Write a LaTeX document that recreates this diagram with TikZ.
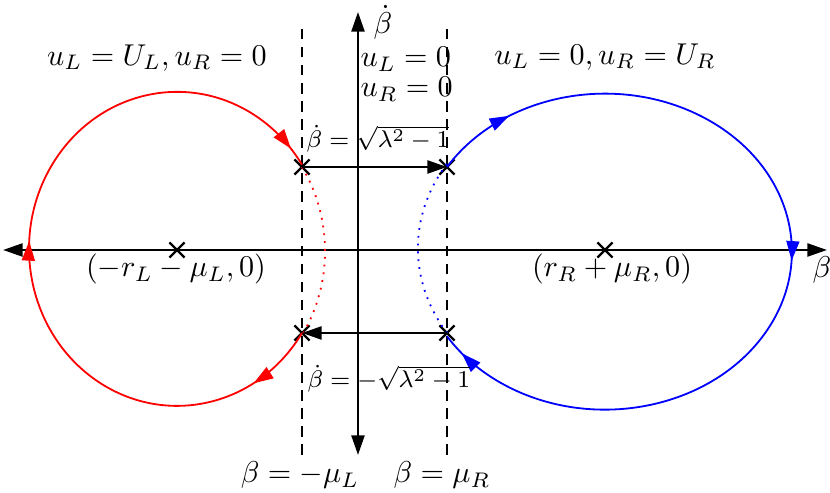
\documentclass[tikz,border=0pt]{standalone}
\usetikzlibrary{arrows.meta,decorations.markings,shapes.misc}
\tikzset{
  headtip/.tip={Triangle[length=6.5pt,width=4.3pt]},
  crossmark/.style={cross out,draw,thick,minimum size=4.2pt,inner sep=0pt},
  jumplabel/.style={anchor=base,font=\fontsize{8.5}{10}\selectfont},
  flow/.style={postaction={decorate},decoration={markings,
    mark=at position 0.09 with {\arrow{headtip}},
    mark=at position 0.51 with {\arrow{headtip}},
    mark=at position 0.975 with {\arrow{headtip}}}}
}
\begin{document}
\begin{tikzpicture}[x=0.332pt,y=0.332pt]
    \useasboundingbox (-358,-243) rectangle (472,250);
    % axes
    \draw[thick,{headtip}-{headtip}] (-355,0) -- (469,0);
    \draw[thick,{headtip}-{headtip}] (0,-205) -- (0,238);
    \node (betadot) at (25,228) {$\dot\beta$};
    \node (beta) at (464,-20) {$\beta$};
    % boundaries
    \draw[semithick,dash pattern=on 3.5pt off 2.5pt] (-56,-205) -- (-56,228);
    \draw[semithick,dash pattern=on 3.5pt off 2.5pt] (89,-205) -- (89,228);
    \node (muL) at (-58,-233) [anchor=base] {$\beta=-\mu_L$};
    \node (muR) at (84,-233) [anchor=base] {$\beta=\mu_R$};
    % switching points
    \node[crossmark] (lefttop) at (-56,83) {};
    \node[crossmark] (leftbot) at (-56,-83) {};
    \node[crossmark] (righttop) at (89,83) {};
    \node[crossmark] (rightbot) at (89,-83) {};
    \node[crossmark] (centerL) at (-181,0) {};
    \node[crossmark] (centerR) at (247,0) {};
    \node (centerLlabel) at (-182,-27) [anchor=base] {$(-r_L-\mu_L,0)$};
    \node (centerRlabel) at (254,-27) [anchor=base] {$(r_R+\mu_R,0)$};
    % orbits
    \draw[red,semithick,flow] (leftbot.center)
      arc[start angle=-32.4,end angle=-327.6,x radius=148,y radius=157];
    \draw[red,semithick,dotted] (lefttop.center)
      arc[start angle=32.4,end angle=-32.4,x radius=148,y radius=157];
    \draw[blue,semithick,flow] (righttop.center)
      arc[start angle=147.6,end angle=-147.6,x radius=187,y radius=158];
    \draw[blue,semithick,dotted] (rightbot.center)
      arc[start angle=-147.6,end angle=-212.4,x radius=187,y radius=158];
    % jumps
    \draw[thick,-{headtip}] (lefttop.center) -- (righttop.center);
    \draw[thick,-{headtip}] (rightbot.center) -- (leftbot.center);
    \node[jumplabel] (uptop) at (20,102) {$\dot\beta=\sqrt{\lambda^2-1}$};
    \node[jumplabel] (downbot) at (31,-138) {$\dot\beta=-\sqrt{\lambda^2-1}$};
    % regions
    \node (leftregion) at (-201,192) {$u_L=U_L,u_R=0$};
    \node (rightregion) at (247,193) {$u_L=0,u_R=U_R$};
    \node (midone) at (2,183) [anchor=base west,inner sep=0pt] {$u_L=0$};
    \node (midtwo) at (2,153) [anchor=base west,inner sep=0pt] {$u_R=0$};
  \end{tikzpicture}
\end{document}
